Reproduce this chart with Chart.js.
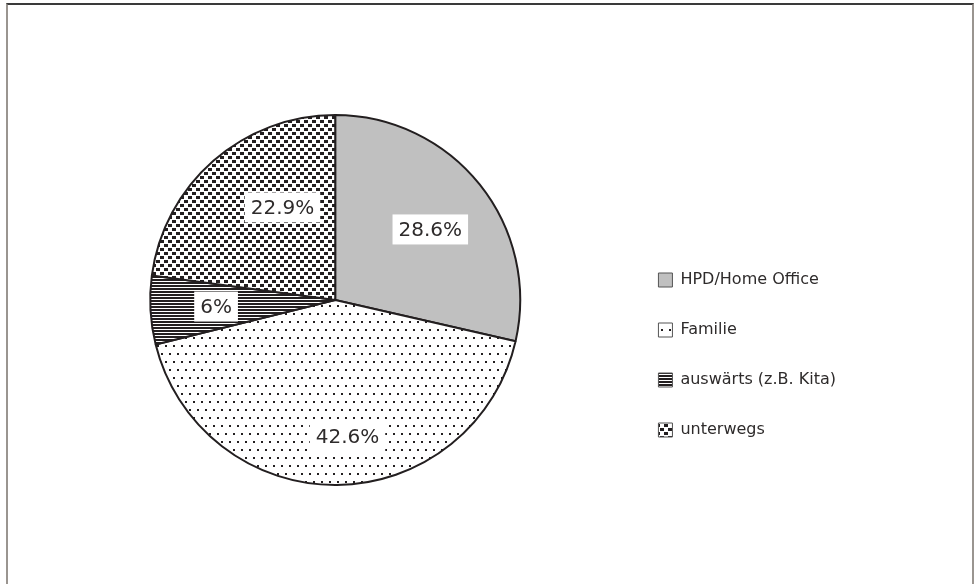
<!DOCTYPE html>
<html>
<head>
<meta charset="utf-8">
<script src="https://cdn.jsdelivr.net/npm/chart.js@4.4.1/dist/chart.umd.min.js"></script>
<style>
    body { margin: 0; background: #fff; }
    #wrap { position: relative; width: 979px; height: 584px; overflow: hidden; }
    #frame {
        position: absolute; left: 6px; top: 3px; width: 968px; height: 620px;
        box-sizing: border-box; border: 2px solid #9a9590; border-top-color: #3a3a3a;
        pointer-events: none;
    }
</style>
</head>
<body>
<div id="wrap">
    <canvas id="myChart"></canvas>
    <div id="frame"></div>
</div>
<script>
// 数据
var labels = ['HPD/Home Office', 'Familie', 'auswärts (z.B. Kita)', 'unterwegs'];
var values = [28.6, 42.6, 6, 22.9];
var valueLabels = ['28.6%', '42.6%', '6%', '22.9%'];

var lineColor = '#231f20';
var textColor = '#2e2b2b';

/**
 * 生成填充图案
 * @param w
 * @param h
 * @param drawFn
 */
function makePattern(w, h, drawFn) {
    var c = document.createElement('canvas');
    c.width = w;
    c.height = h;
    var g = c.getContext('2d');
    g.fillStyle = '#fff';
    g.fillRect(0, 0, w, h);
    g.fillStyle = lineColor;
    drawFn(g);
    return c.getContext('2d').createPattern(c, 'repeat');
}

var dotPattern = makePattern(8, 16, function (g) {
    g.fillRect(1, 1, 2, 2);
    g.fillRect(5, 9, 2, 2);
});

var stripePattern = makePattern(3, 3, function (g) {
    g.fillRect(0, 0, 3, 2);
});

var checkPattern = makePattern(8, 8, function (g) {
    g.fillRect(0, 0, 4, 3);
    g.fillRect(4, 4, 4, 3);
});

var fills = ['#c0c0c0', dotPattern, stripePattern, checkPattern];

// 标签位置 (半径比例, 角度偏移)
var labelPos = [
    {f: 0.64, da: 2},
    {f: 0.74, da: -4.6},
    {f: 0.645, da: 0},
    {f: 0.576, da: 11.5}
];

var valueLabelPlugin = {
    id: 'valueLabels',
    afterDatasetsDraw: function (chart) {
        var ctx = chart.ctx;
        var meta = chart.getDatasetMeta(0);
        ctx.save();
        ctx.font = '20px "DejaVu Sans"';
        ctx.textAlign = 'center';
        ctx.textBaseline = 'middle';
        meta.data.forEach(function (arc, i) {
            var p = arc.getProps(['x', 'y', 'startAngle', 'endAngle', 'outerRadius'], true);
            var mid = (p.startAngle + p.endAngle) / 2 + labelPos[i].da * Math.PI / 180;
            var r = p.outerRadius * labelPos[i].f;
            var x = p.x + Math.cos(mid) * r;
            var y = p.y + Math.sin(mid) * r;
            var w = ctx.measureText(valueLabels[i]).width + 12;
            ctx.fillStyle = '#fff';
            ctx.fillRect(x - w / 2, y - 15, w, 30);
            ctx.fillStyle = textColor;
            ctx.fillText(valueLabels[i], x, y + 1);
        });
        ctx.restore();
    }
};

var ctx = document.getElementById('myChart').getContext('2d');
var chart = new Chart(ctx, {
    type: 'pie',
    data: {
        labels: labels,
        datasets: [{
            data: values,
            backgroundColor: fills,
            borderColor: lineColor,
            borderWidth: 2
        }]
    },
    options: {
        responsive: true,
        maintainAspectRatio: false,
        animation: false,
        layout: {
            padding: {left: 46, right: 133, top: 114, bottom: 98}
        },
        plugins: {
            tooltip: {enabled: false},
            legend: {
                position: 'right',
                title: {display: true, text: '', font: {size: 10, lineHeight: 1}, padding: {top: 100, bottom: 0}},
                labels: {
                    boxWidth: 14,
                    boxHeight: 14,
                    padding: 34,
                    color: textColor,
                    font: {family: '"DejaVu Sans"', size: 16},
                    generateLabels: function (chart) {
                        var base = Chart.overrides.pie.plugins.legend.labels.generateLabels(chart);
                        base.forEach(function (item) {
                            item.strokeStyle = '#555';
                            item.lineWidth = 1;
                        });
                        return base;
                    }
                }
            }
        }
    },
    plugins: [valueLabelPlugin]
});
</script>
</body>
</html>
